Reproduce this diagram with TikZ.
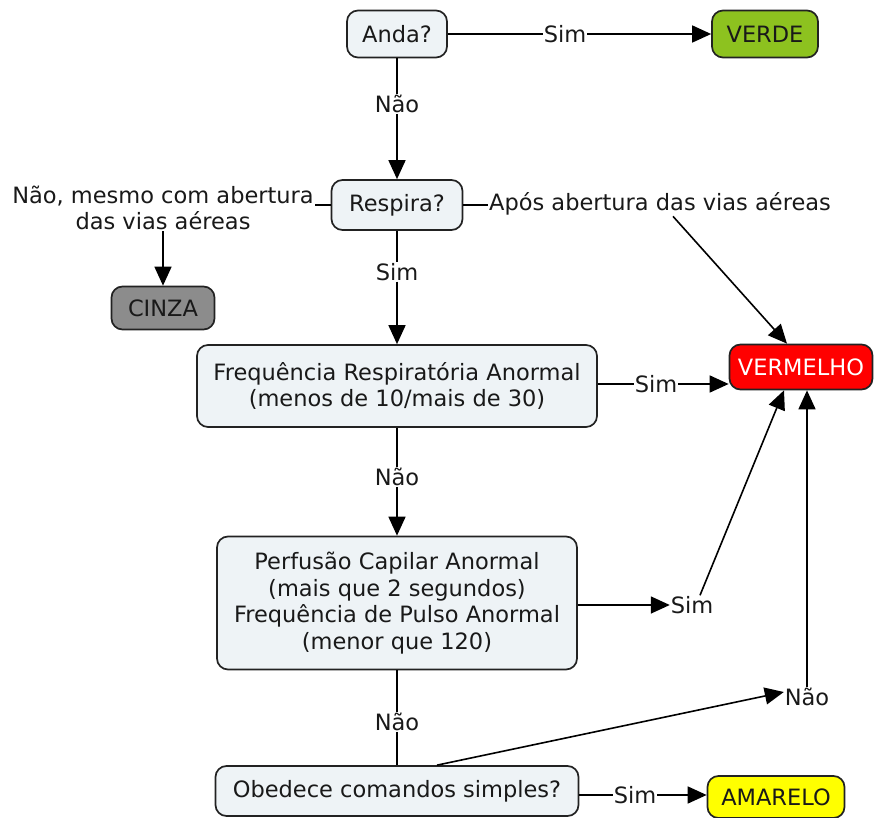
\documentclass[tikz,border=0pt]{standalone}
\usepackage{fontspec}
\setmainfont{DejaVu Sans}
\usetikzlibrary{arrows.meta,calc}
\definecolor{boxfill}{RGB}{238,243,246}
\definecolor{boxline}{RGB}{34,34,34}
\definecolor{textc}{RGB}{25,25,25}
\definecolor{verdec}{RGB}{141,194,31}
\definecolor{cinzac}{RGB}{140,140,140}
\definecolor{vermc}{RGB}{255,0,0}
\definecolor{amarc}{RGB}{255,255,0}
\begin{document}
\begin{tikzpicture}[x=1pt,y=-1pt,
  every node/.style={font=\fontsize{22.5}{26.5}\selectfont, text=textc},
  box/.style={draw=boxline, line width=1.7pt, rounded corners=11pt, fill=boxfill, align=center, inner sep=0pt},
  lbl/.style={inner sep=0.8pt, align=center},
  conn/.style={line width=1.6pt, draw=black},
  arr/.style={conn, -{Triangle[length=19pt,width=17pt]}}]
\useasboundingbox (0,0) rectangle (878,818);

\node[box, minimum width=100pt, minimum height=47pt] (anda) at (397,34) {Anda?};
\node[box, fill=verdec, minimum width=106pt, minimum height=47pt] (verde) at (765,34) {VERDE};
\node[lbl] (s1) at (565,34) {Sim};
\node[lbl] (n1) at (397,104) {Não};
\node[box, minimum width=131pt, minimum height=50pt] (resp) at (397,205) {Respira?};
\node[lbl] (nm) at (163,208) {Não, mesmo com abertura\\das vias aéreas};
\node[box, fill=cinzac, minimum width=103pt, minimum height=43pt] (cinza) at (163,308) {CINZA};
\node[lbl] (apos) at (660,204) {Após abertura das vias aéreas};
\node[lbl] (s2) at (397,272) {Sim};
\node[box, minimum width=400pt, minimum height=82pt] (fra) at (397,386) {Frequência Respiratória Anormal\\(menos de 10/mais de 30)};
\node[box, fill=vermc, text=white, minimum width=143pt, minimum height=45pt] (verm) at (801,367) {VERMELHO};
\node[lbl] (s3) at (656,384) {Sim};
\node[lbl] (n2) at (397,477) {Não};
\node[box, minimum width=360pt, minimum height=133pt] (perf) at (397,603) {Perfusão Capilar Anormal\\(mais que 2 segundos)\\Frequência de Pulso Anormal\\(menor que 120)};
\node[lbl] (s4) at (692,605) {Sim};
\node[lbl] (n3) at (807,697) {Não};
\node[lbl] (n4) at (397,722) {Não};
\node[box, minimum width=363pt, minimum height=50pt] (obed) at (397,791) {Obedece comandos simples?};
\node[lbl] (s5) at (635,795) {Sim};
\node[box, fill=amarc, minimum width=137pt, minimum height=42pt] (amar) at (776,797) {AMARELO};

\draw[conn] (anda) -- (s1);
\draw[arr] (s1) -- (verde);
\draw[conn] (anda) -- (n1);
\draw[arr] (n1) -- (resp);
\draw[conn] (resp.west) -- (resp.west -| nm.east);
\draw[arr] (nm) -- (cinza);
\draw[conn] (resp.east) -- (resp.east -| apos.west);
\draw[arr] ([xshift=13pt]apos.south) -- ([xshift=-14pt]verm.north);
\draw[conn] (resp) -- (s2);
\draw[arr] (s2) -- (fra);
\draw[conn] (s3.west -| fra.east) -- (s3.west);
\draw[arr] (s3) -- (s3 -| verm.west);
\draw[conn] (fra) -- (n2);
\draw[arr] (n2) -- (perf);
\draw[arr] (s4.west -| perf.east) -- (s4.west);
\draw[arr] ([xshift=8pt]s4.north) -- ([xshift=-17pt]verm.south);
\draw[arr] (n3.north) -- (n3.north |- verm.south);
\draw[arr] ([xshift=40pt]obed.north) -- ([yshift=5pt]n3.west);
\draw[conn] (perf) -- (n4);
\draw[conn] (n4) -- (obed);
\draw[conn] (s5.west -| obed.east) -- (s5.west);
\draw[arr] (s5) -- (s5 -| amar.west);
\end{tikzpicture}
\end{document}
